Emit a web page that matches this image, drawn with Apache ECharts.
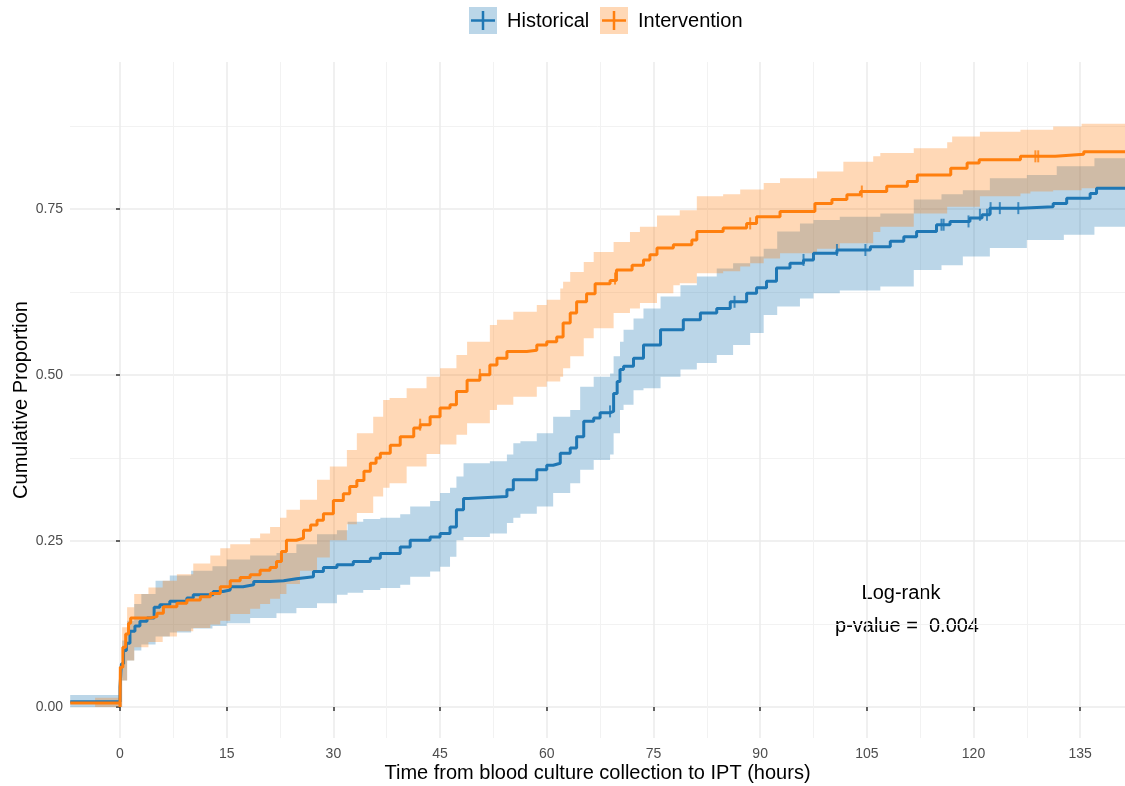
<!DOCTYPE html>
<html>
<head>
<meta charset="utf-8">
<title>Cumulative Proportion</title>
<script src="https://cdn.jsdelivr.net/npm/echarts@6/dist/echarts.min.js"></script>
<style>
  html, body { margin: 0; padding: 0; background: #fff; }
  #main { width: 1125px; height: 786px; }
</style>
</head>
<body>
<div id="main"></div>
<script>
// Historical cohort: step estimate
var histTime = [-7, 0, 0.2, 0.5, 0.9, 1.4, 2.1, 2.8, 3.8, 4.8, 5.6, 7, 9.4, 10.3, 13.1, 14.5, 15.5, 17.3, 18.8, 21.1,
  23, 24.8, 27.2, 28.6, 30.5, 32.8, 35.2, 36.6, 39.4, 40.8, 43.6, 45, 46.4, 47.3, 48.3, 49, 54.4, 55.3, 58.6, 60,
  60.9, 61.9, 63.3, 64.2, 65.2, 66.6, 67.5, 68.9, 69.4, 69.9, 70.3, 70.8, 72.2, 73.6, 76, 79.2, 81.6, 83.9, 85.8, 88.1,
  89.5, 90.9, 92.3, 94.2, 96.1, 97.5, 100.8, 105.5, 108.3, 110.2, 112, 114.8, 116.7, 119.5, 121.2, 122.3, 126.6, 131.2, 133.1, 136.4,
  137.3, 141.3]
var histEst = [0.008, 0.03, 0.065, 0.085, 0.096, 0.114, 0.122, 0.129, 0.134, 0.15, 0.154, 0.159, 0.164, 0.169, 0.174, 0.176, 0.181, 0.184, 0.189, 0.19,
  0.193, 0.196, 0.204, 0.21, 0.214, 0.219, 0.224, 0.231, 0.241, 0.251, 0.256, 0.261, 0.271, 0.297, 0.314, 0.317, 0.327, 0.342, 0.357, 0.364,
  0.367, 0.382, 0.39, 0.407, 0.43, 0.435, 0.443, 0.445, 0.472, 0.49, 0.508, 0.513, 0.525, 0.545, 0.568, 0.583, 0.593, 0.6, 0.61, 0.623,
  0.631, 0.641, 0.661, 0.668, 0.673, 0.683, 0.688, 0.693, 0.701, 0.708, 0.716, 0.726, 0.731, 0.736, 0.741, 0.751, 0.753, 0.758, 0.766, 0.773,
  0.781, 0.781]

// Historical cohort: confidence band
var histBandTime = [-7, 0, 0.3, 1, 2, 3, 5, 7, 10, 13, 15, 18.3, 22, 24.8, 27.7, 30.5, 32, 34.2, 36.6, 39.4,
  40.8, 43.6, 45, 46.4, 47.3, 48.3, 52, 54.4, 55.3, 56.3, 58.6, 60.9, 63.3, 64.7, 66.6, 68.9, 69.4, 70.3, 70.8, 72.2,
  73.6, 76, 78.8, 81.1, 83.9, 86.2, 88.6, 90.5, 92.4, 95.6, 97.5, 101.2, 106.9, 111.6, 115.5, 118.5, 122.3, 127.5, 131.7, 132.7,
  137, 141.3]
var histLower = [0, 0, 0.04, 0.07, 0.085, 0.094, 0.106, 0.112, 0.118, 0.122, 0.126, 0.134, 0.141, 0.149, 0.156, 0.169, 0.172, 0.176, 0.179, 0.184,
  0.196, 0.204, 0.211, 0.226, 0.251, 0.256, 0.261, 0.277, 0.285, 0.291, 0.302, 0.322, 0.337, 0.357, 0.372, 0.38, 0.412, 0.447, 0.455, 0.477,
  0.48, 0.497, 0.508, 0.518, 0.53, 0.545, 0.563, 0.59, 0.603, 0.615, 0.623, 0.627, 0.633, 0.658, 0.665, 0.678, 0.691, 0.703, 0.703, 0.711,
  0.723, 0.723]
var histUpper = [0.018, 0.05, 0.1, 0.13, 0.155, 0.17, 0.19, 0.198, 0.205, 0.212, 0.222, 0.228, 0.232, 0.245, 0.26, 0.266, 0.279, 0.283, 0.285, 0.29,
  0.302, 0.31, 0.322, 0.33, 0.347, 0.367, 0.37, 0.38, 0.397, 0.4, 0.412, 0.437, 0.447, 0.482, 0.497, 0.502, 0.528, 0.55, 0.568, 0.585,
  0.6, 0.618, 0.635, 0.648, 0.66, 0.668, 0.678, 0.69, 0.716, 0.728, 0.733, 0.738, 0.743, 0.764, 0.772, 0.778, 0.796, 0.801, 0.814, 0.814,
  0.826, 0.826]

// Historical cohort: censored observations
var histCensorTime = [68.9, 86.4, 96.1, 100.8, 104.8, 115.5, 115.8, 119.3, 120.9, 121.9, 122.4, 123.7, 126.3]
var histCensorEst = [0.445, 0.61, 0.673, 0.688, 0.688, 0.726, 0.726, 0.731, 0.741, 0.741, 0.751, 0.751, 0.751]

// Intervention cohort: step estimate
var intTime = [-7, 0, 0.05, 0.4, 0.8, 1.2, 1.5, 4.2, 5.2, 6.1, 8, 9.4, 11.3, 12.7, 14.1, 15.5, 16.9, 18.3, 19.7, 21.1,
  22, 22.7, 23.4, 24.8, 25.8, 26.8, 27.7, 28.6, 30, 31.4, 32.3, 33.3, 34.3, 35.2, 36, 36.6, 38, 39.4, 41.3, 42.2,
  43.6, 45, 46.4, 47.3, 48.8, 50.6, 52, 53, 54.4, 57.2, 58.6, 60, 61.4, 62.3, 63.3, 64.2, 65.6, 66.8, 68.9, 69.8,
  72, 73.6, 74.5, 75.5, 77.8, 80.4, 81.1, 84.8, 88.1, 89.5, 92.8, 97.7, 100.1, 102.2, 104.1, 107.8, 110.7, 112.1, 116.8, 119.1,
  120.8, 126.6, 131.5, 135.5, 141.3]
var intEst = [0.006, 0, 0.06, 0.09, 0.11, 0.126, 0.134, 0.136, 0.141, 0.151, 0.156, 0.161, 0.166, 0.171, 0.181, 0.19, 0.195, 0.199, 0.206, 0.21,
  0.219, 0.234, 0.251, 0.254, 0.266, 0.274, 0.281, 0.291, 0.311, 0.321, 0.332, 0.341, 0.355, 0.367, 0.375, 0.382, 0.394, 0.407, 0.42, 0.425,
  0.437, 0.45, 0.455, 0.475, 0.492, 0.5, 0.515, 0.525, 0.535, 0.537, 0.545, 0.55, 0.557, 0.578, 0.593, 0.61, 0.622, 0.637, 0.642, 0.658,
  0.665, 0.673, 0.681, 0.691, 0.696, 0.703, 0.716, 0.721, 0.728, 0.738, 0.746, 0.758, 0.764, 0.771, 0.776, 0.784, 0.791, 0.801, 0.811, 0.819,
  0.824, 0.829, 0.832, 0.836, 0.836]

// Intervention cohort: confidence band
var intBandTime = [-3.5, 0, 0.3, 1, 2, 4, 6, 8, 10.3, 12.7, 14.1, 15.5, 18.3, 19.7, 21.1, 22.5, 23.4, 25.3, 27.7, 29.5,
  31.9, 33.3, 35.6, 37, 37.9, 40.3, 43.1, 45, 47.3, 48.8, 52, 53, 55.3, 58.6, 60, 61.9, 62.3, 63.3, 65.2, 66.6,
  69.4, 71.7, 73.1, 75.5, 77.8, 78.7, 81.1, 84.8, 87.2, 88.6, 90.5, 92.8, 94.2, 98, 101.2, 101.7, 105.9, 106.9, 111.6, 116.3,
  117, 120.9, 126.6, 128, 131.2, 135.2, 141.3]
var intLower = [0, 0, 0.04, 0.07, 0.09, 0.098, 0.106, 0.114, 0.119, 0.124, 0.13, 0.14, 0.148, 0.155, 0.163, 0.17, 0.185, 0.205, 0.225, 0.251,
  0.275, 0.292, 0.317, 0.33, 0.337, 0.362, 0.381, 0.395, 0.41, 0.427, 0.447, 0.455, 0.467, 0.482, 0.49, 0.497, 0.51, 0.528, 0.555, 0.57,
  0.593, 0.6, 0.608, 0.623, 0.635, 0.638, 0.653, 0.656, 0.663, 0.668, 0.675, 0.683, 0.683, 0.69, 0.698, 0.698, 0.715, 0.723, 0.743, 0.753,
  0.753, 0.769, 0.773, 0.776, 0.778, 0.781, 0.781]
var intUpper = [0.014, 0.04, 0.12, 0.15, 0.17, 0.18, 0.19, 0.2, 0.216, 0.228, 0.239, 0.245, 0.254, 0.261, 0.271, 0.285, 0.297, 0.312, 0.342, 0.362,
  0.387, 0.412, 0.437, 0.462, 0.465, 0.48, 0.497, 0.51, 0.53, 0.55, 0.575, 0.583, 0.595, 0.605, 0.613, 0.63, 0.64, 0.655, 0.67, 0.685,
  0.7, 0.715, 0.723, 0.74, 0.74, 0.748, 0.769, 0.772, 0.779, 0.779, 0.789, 0.796, 0.796, 0.806, 0.806, 0.821, 0.829, 0.834, 0.841, 0.85,
  0.859, 0.866, 0.869, 0.869, 0.874, 0.878, 0.878]

// Intervention cohort: censored observations
var intCensorTime = [42.2, 50.6, 69.6, 88.6, 104.3, 128.7, 129.1]
var intCensorEst = [0.425, 0.5, 0.645, 0.728, 0.776, 0.829, 0.829]

// axes
var xTicks = [0, 15, 30, 45, 60, 75, 90, 105, 120, 135]
var xMinor = [7.5, 22.5, 37.5, 52.5, 67.5, 82.5, 97.5, 112.5, 127.5]
var yTicks = [0, 0.25, 0.5, 0.75]
var yMinor = [0.125, 0.375, 0.625, 0.875]

var blue = '#1f77b4'
var orange = '#ff7f0e'
var font = '"Liberation Sans", Arial, Helvetica, sans-serif'

const pairs = (xs, ys) => xs.map((x, i) => [x, ys[i]])

// confidence ribbon as one stepped polygon, positioned with api.coord
const ribbon = (times, lower, upper, fill) => ({
  type: 'custom', silent: true, clip: true,
  data: [[times[0], lower[0]]],
  renderItem: (params, api) => {
    var top = []
    var bottom = []
    for (var i = 0; i < times.length; i++) {
      var next = i < times.length - 1 ? times[i + 1] : times[i]
      top.push(api.coord([times[i], upper[i]]), api.coord([next, upper[i]]))
      bottom.push(api.coord([times[i], lower[i]]), api.coord([next, lower[i]]))
    }
    return {
      type: 'polygon',
      shape: { points: top.concat(bottom.reverse()) },
      style: { fill: fill }
    }
  }
})

const curve = (name, times, est, color) => ({
  name: name, type: 'line', step: 'end', symbol: 'none', silent: true,
  lineStyle: { color: color, width: 3 },
  data: pairs(times, est)
})

const censor = (times, est, color) => ({
  type: 'scatter', symbol: 'rect', symbolSize: [2, 12], silent: true,
  itemStyle: { color: color },
  data: pairs(times, est)
})

var chartDom = document.getElementById('main')
var myChart = echarts.init(chartDom, null, { renderer: 'canvas' })
var option

option = {
  animation: false,
  backgroundColor: '#fff',
  textStyle: { fontFamily: font },
  grid: { left: 70, right: 0, top: 62, bottom: 48, containLabel: false, outerBoundsMode: 'none' },
  xAxis: [
    {
      type: 'value', min: -7.03, max: 141.3,
      name: 'Time from blood culture collection to IPT (hours)',
      nameLocation: 'middle', nameGap: 25, nameMoveOverlap: false,
      nameTextStyle: { fontSize: 20, color: '#000', fontFamily: font },
      axisLine: { show: false },
      axisTick: { show: true, length: 4, customValues: xTicks, lineStyle: { color: '#333', width: 1.5 } },
      axisLabel: { customValues: xTicks, fontSize: 14, color: '#4d4d4d', margin: 9, fontFamily: font },
      splitLine: { show: true, lineStyle: { color: '#ebebeb', width: 1.5 } }
    },
    {
      type: 'value', min: -7.03, max: 141.3, position: 'bottom',
      axisLine: { show: false },
      axisTick: { show: false, customValues: xMinor },
      axisLabel: { show: false, customValues: xMinor },
      splitLine: { show: true, lineStyle: { color: '#f2f2f2', width: 1 } }
    }
  ],
  yAxis: [
    {
      type: 'value', min: -0.0467, max: 0.971,
      name: 'Cumulative Proportion',
      nameLocation: 'middle', nameGap: 39, nameMoveOverlap: false,
      nameTextStyle: { fontSize: 20, color: '#000', fontFamily: font },
      axisLine: { show: false },
      axisTick: { show: true, length: 4, customValues: yTicks, lineStyle: { color: '#333', width: 1.5 } },
      axisLabel: {
        customValues: yTicks, fontSize: 14, color: '#4d4d4d', margin: 7, fontFamily: font,
        formatter: v => v.toFixed(2)
      },
      splitLine: { show: true, lineStyle: { color: '#ebebeb', width: 1.5 } }
    },
    {
      type: 'value', min: -0.0467, max: 0.971, position: 'left',
      axisLine: { show: false },
      axisTick: { show: false, customValues: yMinor },
      axisLabel: { show: false, customValues: yMinor },
      splitLine: { show: true, lineStyle: { color: '#f2f2f2', width: 1 } }
    }
  ],
  series: [
    ribbon(histBandTime, histLower, histUpper, 'rgba(31,119,180,0.3)'),
    curve('Historical', histTime, histEst, blue),
    censor(histCensorTime, histCensorEst, blue),
    ribbon(intBandTime, intLower, intUpper, 'rgba(255,127,14,0.3)'),
    curve('Intervention', intTime, intEst, orange),
    censor(intCensorTime, intCensorEst, orange)
  ],
  graphic: [
    // legend keys drawn by hand (filled key + cross like the ggplot legend)
    { type: 'rect', shape: { x: 469, y: 7, width: 28, height: 27 }, style: { fill: 'rgba(31,119,180,0.3)' } },
    { type: 'line', shape: { x1: 471, y1: 20.5, x2: 495, y2: 20.5 }, style: { stroke: blue, lineWidth: 2.5 } },
    { type: 'line', shape: { x1: 483, y1: 11, x2: 483, y2: 30 }, style: { stroke: blue, lineWidth: 2.5 } },
    { type: 'text', x: 507, y: 21, style: { text: 'Historical', font: '20px ' + font, fill: '#000', textAlign: 'left', textVerticalAlign: 'middle' } },
    { type: 'rect', shape: { x: 600, y: 7, width: 28, height: 27 }, style: { fill: 'rgba(255,127,14,0.3)' } },
    { type: 'line', shape: { x1: 602, y1: 20.5, x2: 626, y2: 20.5 }, style: { stroke: orange, lineWidth: 2.5 } },
    { type: 'line', shape: { x1: 614, y1: 11, x2: 614, y2: 30 }, style: { stroke: orange, lineWidth: 2.5 } },
    { type: 'text', x: 638, y: 21, style: { text: 'Intervention', font: '20px ' + font, fill: '#000', textAlign: 'left', textVerticalAlign: 'middle' } },
    // log-rank annotation
    { type: 'text', x: 901, y: 593, style: { text: 'Log-rank', font: '20px ' + font, fill: '#000', textAlign: 'center', textVerticalAlign: 'middle' } },
    { type: 'text', x: 907, y: 626, style: { text: 'p-value =  0.004', font: '20px ' + font, fill: '#000', textAlign: 'center', textVerticalAlign: 'middle' } }
  ]
}

option && myChart.setOption(option)
</script>
</body>
</html>
